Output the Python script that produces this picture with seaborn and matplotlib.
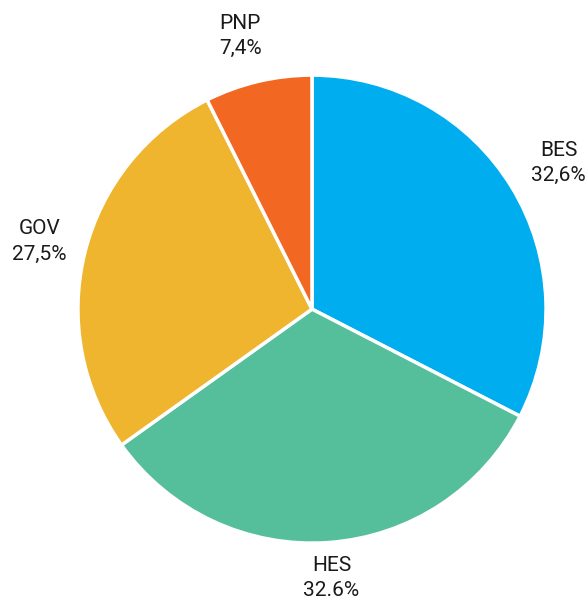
import matplotlib
matplotlib.use("Agg")
import matplotlib.pyplot as plt
import seaborn as sns

sns.set_style("white")
plt.rcParams['font.family'] = ['Roboto', 'DejaVu Sans']

categories = ['BES', 'HES', 'GOV', 'PNP']
values = [32.6, 32.6, 27.5, 7.4]
pct_labels = ['32,6%', '32.6%', '27,5%', '7,4%']
colors = ['#00AEEF', '#55BF9B', '#F0B52E', '#F26722']

fig = plt.figure(figsize=(5.87, 6.03), dpi=100)
ax = fig.add_axes([0, 0, 1, 1])

labels = [f"{c}\n{p}" for c, p in zip(categories, pct_labels)]
wedges, texts = ax.pie(values, labels=labels, colors=colors, startangle=90,
                       counterclock=False, labeldistance=1.2,
                       wedgeprops=dict(edgecolor='white', linewidth=2.5),
                       textprops=dict(fontsize=15, color='#1a1a1a', linespacing=1.4))
for t in texts:
    t.set_ha('center')
# nudge a couple of labels to where the original has them
x, y = texts[1].get_position()
texts[1].set_position((x * 0.96, y * 0.96))
x, y = texts[3].get_position()
texts[3].set_position((x - 0.03, y))
x, y = texts[0].get_position()
texts[0].set_position((x + 0.03, y))

ax.set_aspect('auto')
ax.set_xlim(-1.333, 1.175)
ax.set_ylim(-1.256, 1.321)
ax.axis('off')

fig.savefig("out.png", dpi=100)
